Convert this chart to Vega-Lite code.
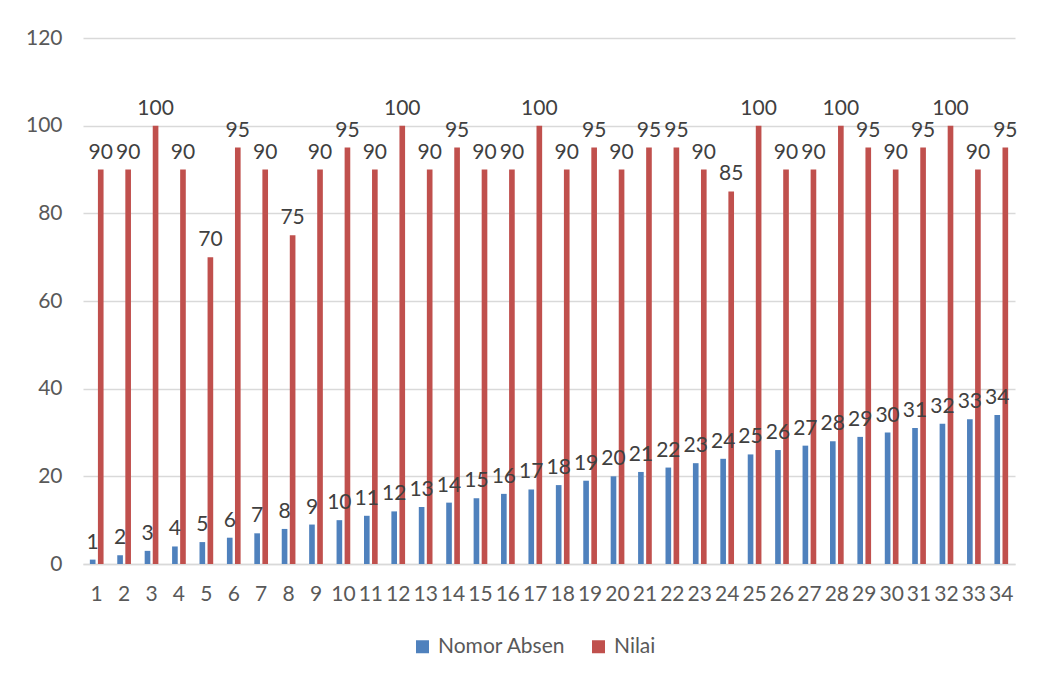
{
  "$schema": "https://vega.github.io/schema/vega-lite/v6.json",
  "width": 932,
  "height": 526,
  "autosize": "none",
  "padding": {"left": 83, "top": 38, "right": 22, "bottom": 118},
  "background": "white",
  "config": {"font": "Lato", "view": {"stroke": null}},
  "data": {"values": [
    {"no": 1, "Nomor Absen": 1, "Nilai": 90},
    {"no": 2, "Nomor Absen": 2, "Nilai": 90},
    {"no": 3, "Nomor Absen": 3, "Nilai": 100},
    {"no": 4, "Nomor Absen": 4, "Nilai": 90},
    {"no": 5, "Nomor Absen": 5, "Nilai": 70},
    {"no": 6, "Nomor Absen": 6, "Nilai": 95},
    {"no": 7, "Nomor Absen": 7, "Nilai": 90},
    {"no": 8, "Nomor Absen": 8, "Nilai": 75},
    {"no": 9, "Nomor Absen": 9, "Nilai": 90},
    {"no": 10, "Nomor Absen": 10, "Nilai": 95},
    {"no": 11, "Nomor Absen": 11, "Nilai": 90},
    {"no": 12, "Nomor Absen": 12, "Nilai": 100},
    {"no": 13, "Nomor Absen": 13, "Nilai": 90},
    {"no": 14, "Nomor Absen": 14, "Nilai": 95},
    {"no": 15, "Nomor Absen": 15, "Nilai": 90},
    {"no": 16, "Nomor Absen": 16, "Nilai": 90},
    {"no": 17, "Nomor Absen": 17, "Nilai": 100},
    {"no": 18, "Nomor Absen": 18, "Nilai": 90},
    {"no": 19, "Nomor Absen": 19, "Nilai": 95},
    {"no": 20, "Nomor Absen": 20, "Nilai": 90},
    {"no": 21, "Nomor Absen": 21, "Nilai": 95},
    {"no": 22, "Nomor Absen": 22, "Nilai": 95},
    {"no": 23, "Nomor Absen": 23, "Nilai": 90},
    {"no": 24, "Nomor Absen": 24, "Nilai": 85},
    {"no": 25, "Nomor Absen": 25, "Nilai": 100},
    {"no": 26, "Nomor Absen": 26, "Nilai": 90},
    {"no": 27, "Nomor Absen": 27, "Nilai": 90},
    {"no": 28, "Nomor Absen": 28, "Nilai": 100},
    {"no": 29, "Nomor Absen": 29, "Nilai": 95},
    {"no": 30, "Nomor Absen": 30, "Nilai": 90},
    {"no": 31, "Nomor Absen": 31, "Nilai": 95},
    {"no": 32, "Nomor Absen": 32, "Nilai": 100},
    {"no": 33, "Nomor Absen": 33, "Nilai": 90},
    {"no": 34, "Nomor Absen": 34, "Nilai": 95}
  ]},
  "transform": [{"fold": ["Nomor Absen", "Nilai"], "as": ["series", "value"]}],
  "encoding": {
    "x": {
      "field": "no", "type": "ordinal",
      "scale": {"paddingInner": 0.5, "paddingOuter": 0.25},
      "axis": {"title": null, "labelAngle": 0, "labelFontSize": 21, "labelColor": "#595959", "ticks": false, "domainColor": "#D9D9D9", "domainWidth": 1.5, "labelPadding": 19}
    },
    "xOffset": {"field": "series", "sort": ["Nomor Absen", "Nilai"], "scale": {"paddingInner": 0.3}},
    "y": {
      "field": "value", "type": "quantitative",
      "scale": {"domain": [0, 120]},
      "axis": {"values": [0, 20, 40, 60, 80, 100, 120], "title": null, "domain": false, "ticks": false, "gridColor": "#D9D9D9", "gridWidth": 1.5, "labelFontSize": 21, "labelPadding": 21, "labelColor": "#595959"}
    }
  },
  "layer": [
    {
      "mark": {"type": "bar"},
      "encoding": {
        "color": {
          "field": "series", "type": "nominal",
          "scale": {"domain": ["Nomor Absen", "Nilai"], "range": ["#4F81BD", "#C0504D"]},
          "legend": {"orient": "none", "legendX": 329, "legendY": 598, "direction": "horizontal", "title": null, "labelFontSize": 21, "labelColor": "#595959", "symbolType": "square", "symbolSize": 169, "symbolStrokeWidth": 0, "columnPadding": 22, "labelOffset": 5}
        }
      }
    },
    {
      "mark": {"type": "text", "baseline": "bottom", "dy": -7, "fontSize": 21, "color": "#404040"},
      "encoding": {"text": {"field": "value", "type": "quantitative"}}
    }
  ]
}
